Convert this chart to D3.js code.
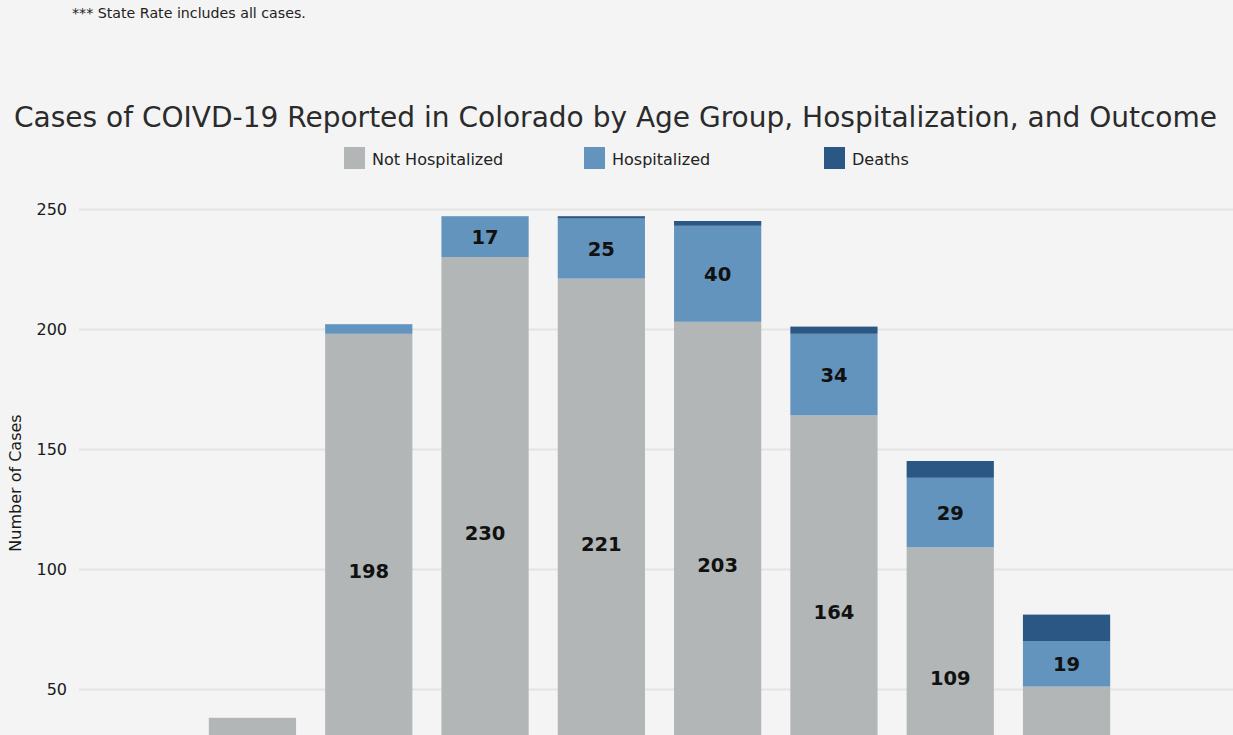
<!DOCTYPE html>
<html>
<head>
<meta charset="utf-8">
<script src="https://cdn.jsdelivr.net/npm/d3@7"></script>
<style>
  html, body { margin: 0; padding: 0; background: #f4f4f4; overflow: hidden; }
  svg { display: block; font-family: "DejaVu Sans", sans-serif; }
</style>
</head>
<body>
<script>
// age groups (the first and last bars sit below the visible part of the picture)
var ageGroups = ["0-9", "10-19", "20-29", "30-39", "40-49", "50-59", "60-69", "70-79", "80+", "Unknown"];
var notHospitalized = [8, 38, 198, 230, 221, 203, 164, 109, 51, 3];
var hospitalized    = [0, 0, 4, 17, 25, 40, 34, 29, 19, 0];
var deaths          = [0, 0, 0, 0, 1, 2, 3, 7, 11, 0];

var seriesNames = ["Not Hospitalized", "Hospitalized", "Deaths"];
var seriesColors = ["#b3b6b7", "#6394be", "#2b5784"];
var yTicks = [0, 50, 100, 150, 200, 250];

var width = 1233;
var height = 735;

var svg = d3.select("body").append("svg")
	.attr("width", width)
	.attr("height", height);

// footnote at the top
svg.append("text")
	.attr("x", 72)
	.attr("y", 18)
	.style("font-size", "14.2px")
	.style("fill", "#222")
	.text("*** State Rate includes all cases.");

// title, fitted to its width in the original
var title = svg.append("text")
	.attr("x", 14)
	.attr("y", 127)
	.style("font-size", "30px")
	.style("fill", "#2b2b2b")
	.text("Cases of COIVD-19 Reported in Colorado by Age Group, Hospitalization, and Outcome");
var tw = title.node().getComputedTextLength();
title.style("font-size", (30 * 1204 / tw) + "px");

// legend
var legendX = [344, 584, 824];
var legend = svg.selectAll(".legend")
	.data(seriesNames)
	.enter().append("g")
	.attr("class", "legend")
	.attr("transform", function (d, i) { return "translate(" + legendX[i] + ",147)"; });
legend.append("rect")
	.attr("width", 21)
	.attr("height", 22)
	.style("fill", function (d, i) { return seriesColors[i]; });
legend.append("text")
	.attr("x", 28)
	.attr("y", 18)
	.style("font-size", "16px")
	.style("fill", "#222")
	.text(function (d) { return d; });

/*************************************************/
// scales
var x = d3.scaleBand()
	.domain(ageGroups)
	.range([78, 1241])
	.paddingInner(0.25)
	.paddingOuter(0.125);

var y = d3.scaleLinear()
	.domain([0, 250])
	.range([809, 209]);

// gridlines + tick labels (only the ones inside the visible window)
var yAxis = d3.axisLeft(y)
	.tickValues(yTicks.filter(function (v) { return y(v) < height - 10; }))
	.tickSize(-(width - 79))
	.tickPadding(12);

var gy = svg.append("g")
	.attr("transform", "translate(79,0)")
	.call(yAxis);
gy.select(".domain").remove();
gy.selectAll(".tick line")
	.style("stroke", "#e3e3e3")
	.style("stroke-width", 2);
gy.selectAll(".tick text")
	.style("font-size", "16px")
	.style("font-family", "DejaVu Sans, sans-serif")
	.style("fill", "#1a1a1a");

svg.append("text")
	.attr("transform", "translate(21,483) rotate(-90)")
	.attr("text-anchor", "middle")
	.style("font-size", "16px")
	.style("fill", "#1a1a1a")
	.text("Number of Cases");

/*************************************************/
// stacked bars
var rows = ageGroups.map(function (g, i) {
	return { group: g, nh: notHospitalized[i], h: hospitalized[i], d: deaths[i] };
});
var stack = d3.stack().keys(["nh", "h", "d"]);
var layers = stack(rows);

var layer = svg.selectAll(".layer")
	.data(layers)
	.enter().append("g")
	.attr("class", "layer")
	.style("fill", function (d, i) { return seriesColors[i]; });

layer.selectAll("rect")
	.data(function (d) { return d; })
	.enter().append("rect")
	.attr("x", function (d) { return x(d.data.group); })
	.attr("width", x.bandwidth())
	.attr("y", function (d) { return y(d[1]); })
	.attr("height", function (d) { return y(d[0]) - y(d[1]); });

// value labels inside the bigger segments, skipped when they fall off the window
layer.selectAll("text")
	.data(function (d) {
		return d.filter(function (s) {
			return s[1] - s[0] >= 15 && y((s[0] + s[1]) / 2) < height - 14;
		});
	})
	.enter().append("text")
	.attr("x", function (d) { return x(d.data.group) + x.bandwidth() / 2; })
	.attr("y", function (d) { return y((d[0] + d[1]) / 2); })
	.attr("dy", "0.36em")
	.attr("text-anchor", "middle")
	.style("font-size", "19.5px")
	.style("font-weight", "bold")
	.style("fill", "#111")
	.text(function (d) { return d[1] - d[0]; });
</script>
</body>
</html>
